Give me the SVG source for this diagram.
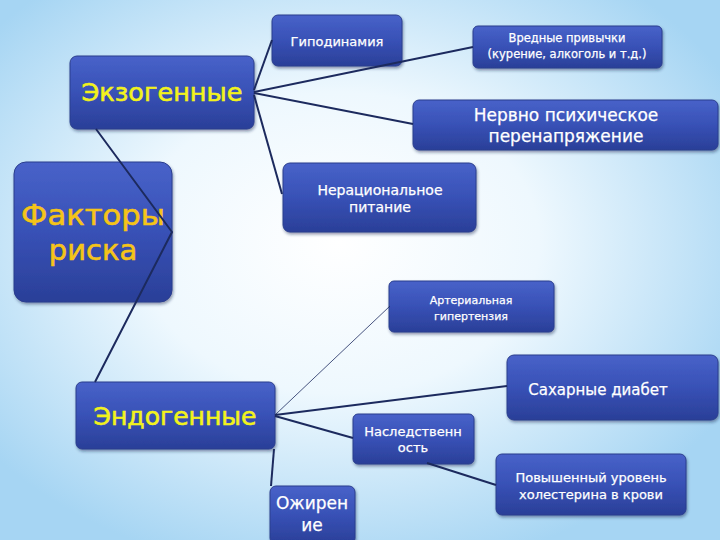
<svg xmlns="http://www.w3.org/2000/svg" width="720" height="540" viewBox="0 0 720 540">
<defs>
<radialGradient id="bg" cx="0.47" cy="0.45" r="0.62">
<stop offset="0" stop-color="#ffffff"/>
<stop offset="0.45" stop-color="#eef8fe"/>
<stop offset="1" stop-color="#a6d5f3"/>
</radialGradient>
<linearGradient id="box" x1="0" y1="0" x2="0" y2="1">
<stop offset="0" stop-color="#4862c9"/>
<stop offset="0.5" stop-color="#3851b6"/>
<stop offset="1" stop-color="#2a3f98"/>
</linearGradient>
<filter id="sh" x="-10%" y="-10%" width="125%" height="130%">
<feDropShadow dx="1" dy="2" stdDeviation="1.5" flood-color="#1a2450" flood-opacity="0.45"/>
</filter>
</defs>
<style>
.b{fill:url(#box);stroke:#2b3e8e;stroke-width:1;filter:url(#sh)}
.t{fill:#ffffff;stroke:#ffffff;stroke-width:0.25;font-family:"DejaVu Sans","Noto Sans",sans-serif;text-anchor:middle}
.y{fill:#f2f21c;stroke:#f2f21c;stroke-width:0.6;font-family:"DejaVu Sans","Noto Sans",sans-serif;text-anchor:middle}
.o{fill:#f5c418;stroke:#f5c418;stroke-width:0.6;font-family:"DejaVu Sans","Noto Sans",sans-serif;text-anchor:middle}
.c{stroke:#1c2a5e;stroke-width:2;fill:none}
.thin{stroke:#1c2a5e;stroke-width:0.8;fill:none}
</style>
<rect width="720" height="540" fill="url(#bg)"/>
<g id="gipodinamiya">
<rect class="b" x="272" y="15" width="130" height="51" rx="6"/>
<text class="t" x="337" y="46" font-size="13">Гиподинамия</text>
</g>
<g id="vrednye">
<rect class="b" x="473" y="26" width="189" height="42" rx="5"/>
<text class="t" x="567" y="42" font-size="11.5">Вредные привычки</text>
<text class="t" x="567" y="58" font-size="11.5">(курение, алкоголь и т.д.)</text>
</g>
<g id="ekzogennye">
<rect class="b" x="70" y="56" width="184" height="73" rx="7"/>
<text class="y" x="162" y="101" font-size="25" textLength="161" lengthAdjust="spacingAndGlyphs">Экзогенные</text>
</g>
<g id="nervno">
<rect class="b" x="413" y="100" width="305" height="50" rx="6"/>
<text class="t" x="566" y="121" font-size="17">Нервно психическое</text>
<text class="t" x="566" y="142" font-size="17">перенапряжение</text>
</g>
<g id="faktory">
<rect class="b" x="14" y="162" width="158" height="140" rx="12"/>
<text class="o" x="93" y="225" font-size="29" textLength="144" lengthAdjust="spacingAndGlyphs">Факторы</text>
<text class="o" x="93" y="260" font-size="29">риска</text>
</g>
<g id="neratsionalnoe">
<rect class="b" x="283" y="163" width="193" height="69" rx="7"/>
<text class="t" x="380" y="195" font-size="14">Нерациональное</text>
<text class="t" x="380" y="212" font-size="14">питание</text>
</g>
<g id="arterialnaya">
<rect class="b" x="389" y="281" width="165" height="51" rx="5"/>
<text class="t" x="471" y="304" font-size="11">Артериальная</text>
<text class="t" x="471" y="320" font-size="11">гипертензия</text>
</g>
<g id="sakharnye">
<rect class="b" x="507" y="355" width="211" height="65" rx="7"/>
<text class="t" x="598" y="395" font-size="15">Сахарные диабет</text>
</g>
<g id="endogennye">
<rect class="b" x="76" y="382" width="199" height="67" rx="6"/>
<text class="y" x="175" y="425" font-size="24" textLength="163" lengthAdjust="spacingAndGlyphs">Эндогенные</text>
</g>
<g id="nasledstvennost">
<rect class="b" x="353" y="414" width="121" height="50" rx="5"/>
<text class="t" x="413" y="436" font-size="13">Наследственн</text>
<text class="t" x="413" y="452" font-size="13">ость</text>
</g>
<g id="povyshennyi">
<rect class="b" x="496" y="454" width="190" height="61" rx="6"/>
<text class="t" x="591" y="482" font-size="13">Повышенный уровень</text>
<text class="t" x="591" y="499" font-size="13">холестерина в крови</text>
</g>
<g id="ozhirenie">
<rect class="b" x="270" y="486" width="85" height="58" rx="6"/>
<text class="t" x="312" y="509" font-size="17">Ожирен</text>
<text class="t" x="312" y="531" font-size="17">ие</text>
</g>
<g id="connectors">
<line class="c" x1="254" y1="90" x2="272" y2="40"/>
<line class="c" x1="254" y1="92" x2="473" y2="47"/>
<line class="c" x1="254" y1="93" x2="413" y2="124"/>
<line class="c" x1="254" y1="95" x2="282" y2="194"/>
<polyline class="c" points="96,129 172,232 95,382"/>
<line class="thin" x1="275" y1="415" x2="390" y2="306"/>
<line class="c" x1="275" y1="415" x2="507" y2="386"/>
<line class="c" x1="275" y1="416" x2="353" y2="438"/>
<line class="c" x1="274" y1="449" x2="271" y2="486"/>
<line class="c" x1="427" y1="463" x2="496" y2="485"/>
</g>
</svg>
